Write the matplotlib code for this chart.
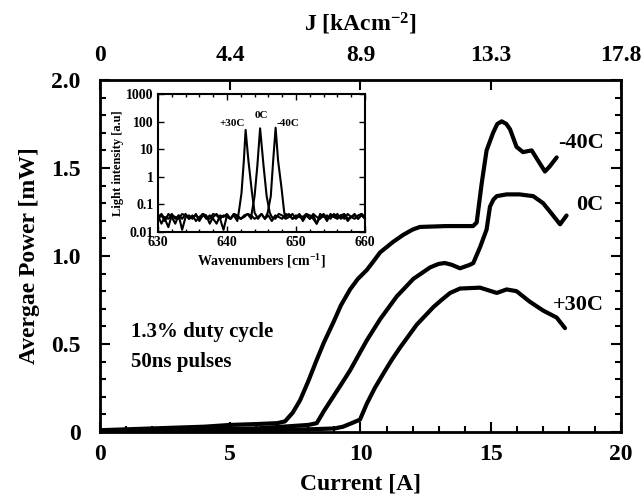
import numpy as np
import matplotlib
matplotlib.use("Agg")
import matplotlib.pyplot as plt
from matplotlib.ticker import MultipleLocator, FixedLocator, NullLocator

plt.rcParams['font.family'] = ['Liberation Serif', 'DejaVu Serif']
plt.rcParams['font.weight'] = 'bold'
plt.rcParams['axes.labelweight'] = 'bold'
plt.rcParams['mathtext.fontset'] = 'custom'
plt.rcParams['mathtext.rm'] = 'Liberation Serif:bold'
plt.rcParams['mathtext.it'] = 'Liberation Serif:bold'
plt.rcParams['mathtext.bf'] = 'Liberation Serif:bold'

# L-I curves (current in A, average power in mW)
cur_m40 = [0, 1, 2, 3, 4, 5, 6, 6.8, 7.1, 7.4, 7.68, 8.0, 8.32, 8.6, 8.95, 9.25, 9.6, 9.9,
           10.24, 10.5, 10.75, 11.25, 11.64, 12.0, 12.28, 13.3, 14.32, 14.46, 14.65, 14.84,
           15.09, 15.25, 15.42, 15.6, 15.74, 15.99, 16.24, 16.57, 16.76, 17.08, 17.27, 17.53]
pow_m40 = [0.01, 0.015, 0.02, 0.025, 0.03, 0.04, 0.045, 0.05, 0.06, 0.11, 0.18, 0.29, 0.41,
           0.51, 0.62, 0.72, 0.81, 0.87, 0.92, 0.97, 1.02, 1.08, 1.12, 1.15, 1.165, 1.17,
           1.17, 1.19, 1.41, 1.6, 1.70, 1.75, 1.765, 1.75, 1.72, 1.62, 1.59, 1.60, 1.555,
           1.48, 1.51, 1.56]

cur_0 = [0, 2, 4, 6, 7, 8, 8.32, 8.6, 8.95, 9.3, 9.6, 9.9, 10.24, 10.75, 11.39, 12.03, 12.67,
         13.0, 13.24, 13.5, 13.82, 14.2, 14.33, 14.59, 14.84, 14.97, 15.1, 15.23, 15.61,
         16.1, 16.63, 17.01, 17.34, 17.66, 17.91]
pow_0 = [0.005, 0.01, 0.015, 0.02, 0.03, 0.04, 0.05, 0.12, 0.20, 0.28, 0.35, 0.43, 0.52,
         0.64, 0.77, 0.87, 0.935, 0.955, 0.96, 0.95, 0.93, 0.95, 0.96, 1.05, 1.15, 1.28,
         1.32, 1.34, 1.35, 1.35, 1.34, 1.30, 1.24, 1.18, 1.23]

cur_p30 = [0, 2, 4, 6, 8, 9, 9.33, 9.66, 9.98, 10.24, 10.55, 10.87, 11.2, 11.52, 12.16,
           12.8, 13.11, 13.44, 13.82, 14.59, 15.23, 15.61, 15.99, 16.5, 17.01, 17.53, 17.85]
pow_p30 = [0.0, 0.005, 0.01, 0.01, 0.015, 0.02, 0.03, 0.05, 0.07, 0.16, 0.25, 0.33, 0.41,
           0.48, 0.61, 0.71, 0.75, 0.79, 0.815, 0.82, 0.79, 0.81, 0.80, 0.74, 0.69, 0.65, 0.59]

curve_labels = ["-40C", "0C", "+30C"]
power_ticks = [0, 0.5, 1.0, 1.5, 2.0]
power_labels = ["0", "0.5", "1.0", "1.5", "2.0"]
j_ticks = [0, 5, 10, 15, 20]
j_labels = ["0", "4.4", "8.9", "13.3", "17.8"]

# spectra (inset): noise floor on a 0.5 cm-1 grid plus the lasing peak
wavenumber = np.arange(630, 660.01, 0.5)
floor_p30 = [0.03, 0.04, 0.025, 0.045, 0.035, 0.02, 0.04, 0.03, 0.045, 0.03, 0.04, 0.025,
             0.035, 0.045, 0.03, 0.04, 0.03, 0.02, 0.04, 0.035, 0.045, 0.03, 0.04, 0.025,
             0.035, 0.045, 0.03, 0.04, 0.035, 0.03, 0.045, 0.03, 0.04, 0.025, 0.04, 0.035,
             0.03, 0.045, 0.04, 0.03, 0.035, 0.045, 0.025, 0.04, 0.03, 0.045, 0.035, 0.03,
             0.04, 0.025, 0.045, 0.035, 0.03, 0.04, 0.045, 0.03, 0.035, 0.04, 0.03, 0.045, 0.035]
floor_0 = [0.04, 0.02, 0.035, 0.03, 0.045, 0.03, 0.04, 0.012, 0.035, 0.04, 0.03, 0.045,
           0.025, 0.04, 0.035, 0.03, 0.045, 0.04, 0.03, 0.012, 0.04, 0.03, 0.045, 0.035,
           0.03, 0.04, 0.045, 0.03, 0.04, 0.035, 0.045, 0.03, 0.04, 0.035, 0.03, 0.045,
           0.04, 0.03, 0.035, 0.045, 0.03, 0.04, 0.035, 0.045, 0.03, 0.04, 0.02, 0.035,
           0.045, 0.03, 0.04, 0.035, 0.045, 0.03, 0.04, 0.025, 0.035, 0.045, 0.03, 0.04, 0.03]
floor_m40 = [0.035, 0.045, 0.03, 0.015, 0.04, 0.035, 0.03, 0.045, 0.04, 0.03, 0.035, 0.04,
             0.03, 0.045, 0.04, 0.02, 0.035, 0.045, 0.03, 0.04, 0.035, 0.03, 0.045, 0.04,
             0.03, 0.035, 0.045, 0.04, 0.03, 0.035, 0.045, 0.03, 0.04, 0.035, 0.045, 0.04,
             0.01, 0.035, 0.045, 0.03, 0.04, 0.035, 0.03, 0.045, 0.04, 0.03, 0.02, 0.045,
             0.035, 0.04, 0.03, 0.045, 0.035, 0.04, 0.03, 0.045, 0.035, 0.03, 0.04, 0.045, 0.035]

peak_x_p30 = [641.7, 642.1, 642.45, 642.7, 643.1, 643.6, 644.0]
peak_y_p30 = [0.05, 0.25, 4, 50, 4, 0.3, 0.05]
peak_x_0 = [643.6, 644.0, 644.4, 644.8, 645.3, 645.75, 646.2]
peak_y_0 = [0.05, 0.2, 2.5, 57, 2.5, 0.2, 0.05]
peak_x_m40 = [645.9, 646.35, 646.7, 647.05, 647.4, 647.9, 648.3]
peak_y_m40 = [0.05, 0.2, 4, 60, 4, 0.4, 0.05]


def spectrum(floor, px, py):
    floor = np.asarray(floor)
    keep = (wavenumber < min(px)) | (wavenumber > max(px))
    x = np.concatenate([wavenumber[keep], px])
    y = np.concatenate([floor[keep], py])
    order = np.argsort(x)
    return x[order], y[order]


fig = plt.figure(figsize=(6.43, 5.04), dpi=100)
ax = fig.add_axes([0.1555, 0.1429, 0.8103, 0.6984])

lw = 3.0
for c, p in [(cur_m40, pow_m40), (cur_0, pow_0), (cur_p30, pow_p30)]:
    ax.plot(c, p, color='black', lw=lw, solid_capstyle='round', solid_joinstyle='round')

ax.set_xlim(0, 20)
ax.set_ylim(0, 2.0)
ax.xaxis.set_major_locator(MultipleLocator(5))
ax.xaxis.set_minor_locator(MultipleLocator(1))
ax.set_yticks(power_ticks)
ax.set_yticklabels(power_labels)
ax.yaxis.set_minor_locator(MultipleLocator(0.1))
ax.tick_params(which='both', direction='in', left=True, right=True, bottom=True, top=False,
               width=1.5, labelsize=17)
ax.tick_params(which='major', length=7)
ax.tick_params(which='minor', length=4)
ax.tick_params(axis='y', pad=14)
ax.tick_params(axis='x', pad=9)
for s in ax.spines.values():
    s.set_linewidth(2)
ax.set_xlabel("Current [A]", fontsize=17, labelpad=6)
ax.set_ylabel("Avergae Power [mW]", fontsize=17, labelpad=8)

# top axis: current density
ax_top = ax.twiny()
ax_top.set_xlim(ax.get_xlim())
ax_top.xaxis.set_major_locator(FixedLocator(j_ticks))
ax_top.set_xticklabels(j_labels)
ax_top.xaxis.set_minor_locator(NullLocator())
ax_top.tick_params(direction='in', length=7, width=1.5, labelsize=17, pad=10)
ax_top.set_xlabel(r"J [kAcm$^{-2}$]", fontsize=17, labelpad=10)

label_pos = [(18.45, 1.64), (18.8, 1.29), (18.35, 0.72)]
for t, (x, y) in zip(curve_labels, label_pos):
    ax.text(x, y, t, fontsize=16, ha='center', va='center')

ax.text(1.2, 0.57, "1.3% duty cycle", fontsize=15, ha='left', va='center')
ax.text(1.2, 0.40, "50ns pulses", fontsize=15, ha='left', va='center')

# inset spectra
ins = fig.add_axes([0.2457, 0.5397, 0.3219, 0.2738])
for fl, px, py in [(floor_p30, peak_x_p30, peak_y_p30), (floor_0, peak_x_0, peak_y_0),
                   (floor_m40, peak_x_m40, peak_y_m40)]:
    x, y = spectrum(fl, px, py)
    ins.plot(x, y, color='black', lw=1.5)
ins.set_yscale('log')
ins.set_xlim(630, 660)
ins.set_ylim(0.01, 1000)
ins.xaxis.set_major_locator(MultipleLocator(10))
ins.xaxis.set_minor_locator(MultipleLocator(2))
ins.set_yticks([0.01, 0.1, 1, 10, 100, 1000])
ins.set_yticklabels(["0.01", "0.1", "1", "10", "100", "1000"])
ins.yaxis.set_minor_locator(NullLocator())
ins.tick_params(which='both', direction='in', top=True, right=True, labelsize=10, width=1, pad=3)
ins.tick_params(which='major', length=4)
ins.tick_params(which='minor', length=2)
for s in ins.spines.values():
    s.set_linewidth(1.5)
ins.set_xlabel(r"Wavenumbers [cm$^{-1}$]", fontsize=10, labelpad=2)
ins.set_ylabel("Light intensity [a.u]", fontsize=9, labelpad=2)

ins_label_pos = [(640.7, 87), (645.0, 170), (648.9, 87)]
for t, (x, y) in zip(["+30C", "0C", "-40C"], ins_label_pos):
    ins.text(x, y, t, fontsize=8, ha='center', va='center')

fig.savefig("out.png", dpi=100)
